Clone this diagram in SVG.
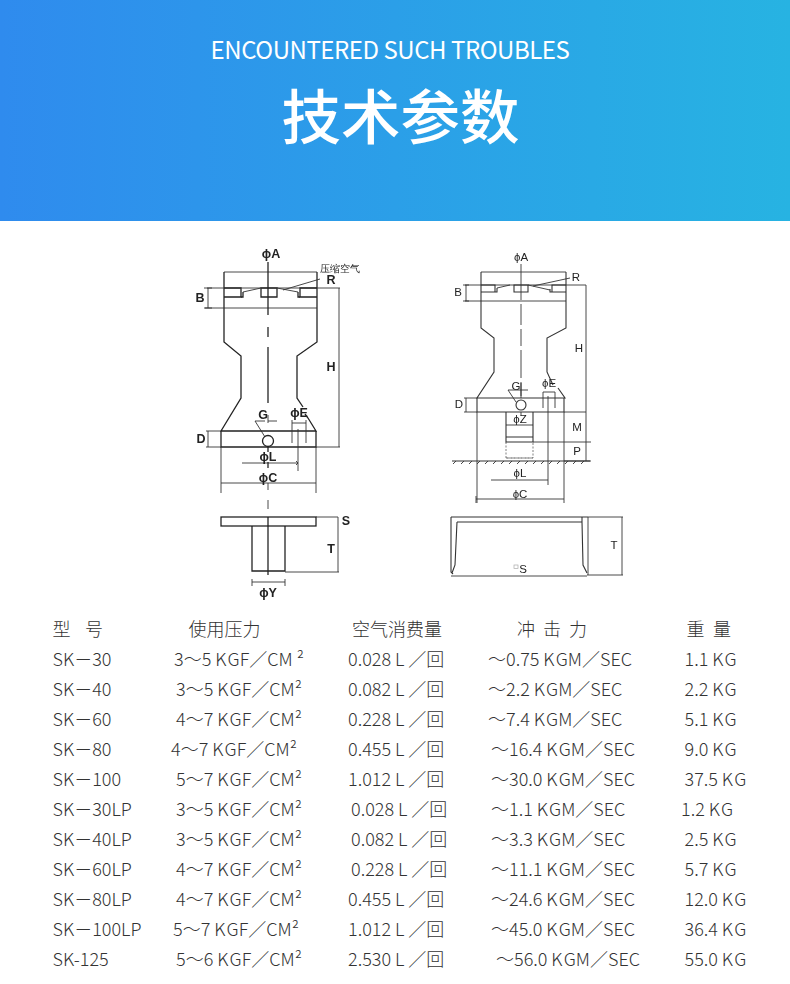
<svg xmlns="http://www.w3.org/2000/svg" width="790" height="984" viewBox="0 0 790 984">
<style>
.t{font-family:"Noto Sans CJK SC","Noto Sans",sans-serif;font-size:18px;fill:#333;font-weight:300}
.d{fill:none;stroke:#222;stroke-width:1.3}
.n{fill:none;stroke:#333;stroke-width:1.1}
.m{fill:none;stroke:#333;stroke-width:.9}
.l{font-family:"Liberation Sans",Arial,sans-serif;font-size:12.500px;font-weight:700;fill:#222;text-anchor:middle}
.r{font-family:"Liberation Sans",Arial,sans-serif;font-size:11.500px;fill:#222;text-anchor:middle}
</style>
<defs>
<linearGradient id="g" x1="0" y1="0" x2="1" y2="0"><stop offset="0" stop-color="#2f8bee"/><stop offset="1" stop-color="#27b3e2"/></linearGradient>
<filter id="b" x="-5%" y="-5%" width="110%" height="110%"><feGaussianBlur stdDeviation=".35"/></filter>
</defs>
<rect width="790" height="984" fill="#fff"/>
<g id="header">
<rect width="790" height="221" fill="url(#g)"/>
<text x="390" y="59" text-anchor="middle" font-family="'Noto Sans CJK SC','Noto Sans',sans-serif" font-size="24" letter-spacing="-.45" fill="#fff">ENCOUNTERED SUCH TROUBLES</text>
<text x="400.500" y="139" text-anchor="middle" font-family="'Noto Sans CJK SC',sans-serif" font-size="59.500" font-weight="500" fill="#fff">技术参数</text>
</g>
<g id="drawing-left" filter="url(#b)">
<path class="m" d="M224 272H317"/>
<path class="d" d="M224 272V342L241 356V398L221 431H316L308 418L305 414M317 272V342L297 356V398L303 407M221 431V447H316V431"/>
<path class="d" d="M224 288H241V297H224M317 288H300V297H317M261 288H277V297H261Z"/>
<path class="d" d="M241 297H243V292M300 297H298V292"/>
<path class="m" d="M207 288H340M205 308H317M208 288V308M204 288H212M204 308H212M339 288V447M316 447H340M243 292L261 288M277 288L298 292M283 290L320 279"/>
<path class="d" d="M268 262V315M268 327V337M268 347V403"/>
<path class="m" d="M208 431V447M206 431H221M206 447H221M268 415V423M268 421H277M255 421H265M255 421L265 437"/>
<circle class="d" cx="268" cy="441" r="5.500"/>
<path class="m" d="M292 423H306M292 420V443M306 420V443M298 429V471M242 463H298M296 461L298 463L296 465"/>
<path class="d" d="M268 447V452M268 462V468"/>
<path class="m" d="M221 447V493M316 447V493M221 483H316M268 483V490M268 500V509"/>
<rect class="d" x="221" y="517" width="95" height="9"/>
<path class="d" d="M252 526V571H285V526M268 517V575"/>
<path class="m" d="M316 517H338M338 517V572M285 572H339M252 582H285M252 579V586M285 579V586"/>
<text class="l" x="271" y="258">ϕA</text>
<text class="l" x="200" y="302">B</text>
<text class="l" x="331" y="371">H</text>
<text class="l" x="331" y="284">R</text>
<text class="r" x="340" y="272" style="font-size:10px">压缩空气</text>
<text class="l" x="263" y="419">G</text>
<text class="l" x="299" y="417">ϕE</text>
<text class="l" x="201" y="443">D</text>
<text class="l" x="268" y="461">ϕL</text>
<text class="l" x="268" y="482">ϕC</text>
<text class="l" x="346" y="525">S</text>
<text class="l" x="331" y="553">T</text>
<text class="l" x="268" y="597">ϕY</text>
</g>
<g id="drawing-right" filter="url(#b)">
<path class="m" d="M481 272H566"/>
<path class="n" d="M481 272V328L494 338V372L477 398H565L558 388M553 385L547 372V338L566 328V272M477 398V412H564V398"/>
<path class="n" d="M481 285H495V292H481M566 285H552V292H566M514 285H528V292H514ZM495 292H497V288M552 292H550V289"/>
<path class="m" d="M465 285H586M465 301H566M466 285V301M463 285H469M463 301H469M586 285V461M497 288L510 285M528 285L550 290M533 286L570 278"/>
<path class="m" d="M521 264V300M521 304V325M521 329V346M521 350V378M521 382V398M521 412V416"/>
<path class="m" d="M466 398V412M464 398H477M464 412H477M508 390L516 402M508 390H528M521 383V396"/>
<circle class="n" cx="521" cy="405" r="5"/>
<path class="m" d="M543 392H555M543 392V408M555 392V408M548 396V485"/>
<path class="n" d="M506 412V442H533V412M506 437H533"/>
<path class="m" d="M506 442V458H533V442M506 458H533" stroke-dasharray="2 1.500" opacity=".7"/>
<path class="m" d="M506 425H533M564 412H586M533 442H591M564 461H591M477 412V503M564 412V503"/>
<path class="n" d="M452 461H590"/>
<path class="m" d="M453 464L456 461M461 464L464 461M469 464L472 461M477 464L480 461M485 464L488 461M493 464L496 461M501 464L504 461M509 464L512 461M517 464L520 461M525 464L528 461M533 464L536 461M541 464L544 461M549 464L552 461M557 464L560 461M565 464L568 461M573 464L576 461M581 464L584 461"/>
<path class="m" d="M491 480H548M476 499H564M476 496V503"/>
<path class="n" d="M451 517H588M451 517V572L453 574M457 522H582V517M457 522L455 565L452 573M582 522L583 565L587 573"/>
<path class="m" d="M588 517H623M588 517V575M622 517V575M587 575H623M451 576H587"/>
<text class="r" x="521" y="261">ϕA</text>
<text class="r" x="458" y="296">B</text>
<text class="r" x="579" y="352">H</text>
<text class="r" x="576" y="281">R</text>
<text class="r" x="516" y="390">G</text>
<text class="r" x="549" y="387">ϕE</text>
<text class="r" x="459" y="408">D</text>
<text class="r" x="520" y="423">ϕZ</text>
<text class="r" x="577" y="431">M</text>
<text class="r" x="577" y="455">P</text>
<text class="r" x="520" y="477">ϕL</text>
<text class="r" x="520" y="498">ϕC</text>
<text class="r" x="614" y="549">T</text>
<rect x="514" y="565" width="4" height="3.500" fill="none" stroke="#aaa" stroke-width=".7"/>
<text class="r" x="523" y="573">S</text>
</g>
<g id="table">
<text class="t" y="636"><tspan x="52.500">型</tspan><tspan x="85">号</tspan><tspan x="188.500">使用压力</tspan><tspan x="352">空气消费量</tspan><tspan x="517">冲</tspan><tspan x="543">击</tspan><tspan x="569">力</tspan><tspan x="686.500">重</tspan><tspan x="713">量</tspan></text>
<text class="t" y="666"><tspan x="52.500">SK－30</tspan><tspan x="174">3～5 K&#8202;GF／CM ²</tspan><tspan x="348">0.028 L ／回</tspan><tspan x="488">～0.75 K&#8202;GM／SEC</tspan><tspan x="684.500">1.1 K&#8202;G</tspan></text>
<text class="t" y="696"><tspan x="52.500">SK－40</tspan><tspan x="176">3～5 K&#8202;GF／CM²</tspan><tspan x="348">0.082 L ／回</tspan><tspan x="488">～2.2 K&#8202;GM／SEC</tspan><tspan x="684.500">2.2 K&#8202;G</tspan></text>
<text class="t" y="726"><tspan x="52.500">SK－60</tspan><tspan x="176">4～7 K&#8202;GF／CM²</tspan><tspan x="348">0.228 L ／回</tspan><tspan x="488">～7.4 K&#8202;GM／SEC</tspan><tspan x="684.500">5.1 K&#8202;G</tspan></text>
<text class="t" y="756"><tspan x="52.500">SK－80</tspan><tspan x="171">4～7 K&#8202;GF／CM²</tspan><tspan x="348">0.455 L ／回</tspan><tspan x="491">～16.4 K&#8202;GM／SEC</tspan><tspan x="684.500">9.0 K&#8202;G</tspan></text>
<text class="t" y="786"><tspan x="52.500">SK－100</tspan><tspan x="176">5～7 K&#8202;GF／CM²</tspan><tspan x="348">1.012 L ／回</tspan><tspan x="491">～30.0 K&#8202;GM／SEC</tspan><tspan x="684.500">37.5 K&#8202;G</tspan></text>
<text class="t" y="816"><tspan x="52.500">SK－30LP</tspan><tspan x="176">3～5 K&#8202;GF／CM²</tspan><tspan x="351">0.028 L ／回</tspan><tspan x="491">～1.1 K&#8202;GM／SEC</tspan><tspan x="681">1.2 K&#8202;G</tspan></text>
<text class="t" y="846"><tspan x="52.500">SK－40LP</tspan><tspan x="176">3～5 K&#8202;GF／CM²</tspan><tspan x="351">0.082 L ／回</tspan><tspan x="491">～3.3 K&#8202;GM／SEC</tspan><tspan x="684.500">2.5 K&#8202;G</tspan></text>
<text class="t" y="876"><tspan x="52.500">SK－60LP</tspan><tspan x="176">4～7 K&#8202;GF／CM²</tspan><tspan x="351">0.228 L ／回</tspan><tspan x="491">～11.1 K&#8202;GM／SEC</tspan><tspan x="684.500">5.7 K&#8202;G</tspan></text>
<text class="t" y="906"><tspan x="52.500">SK－80LP</tspan><tspan x="176">4～7 K&#8202;GF／CM²</tspan><tspan x="348">0.455 L ／回</tspan><tspan x="491">～24.6 K&#8202;GM／SEC</tspan><tspan x="684.500">12.0 K&#8202;G</tspan></text>
<text class="t" y="936"><tspan x="52.500">SK－100LP</tspan><tspan x="173">5～7 K&#8202;GF／CM²</tspan><tspan x="348">1.012 L ／回</tspan><tspan x="491">～45.0 K&#8202;GM／SEC</tspan><tspan x="684.500">36.4 K&#8202;G</tspan></text>
<text class="t" y="966"><tspan x="52.500">SK-125</tspan><tspan x="176">5～6 K&#8202;GF／CM²</tspan><tspan x="348">2.530 L ／回</tspan><tspan x="496">～56.0 K&#8202;GM／SEC</tspan><tspan x="684.500">55.0 K&#8202;G</tspan></text>
</g>
</svg>
